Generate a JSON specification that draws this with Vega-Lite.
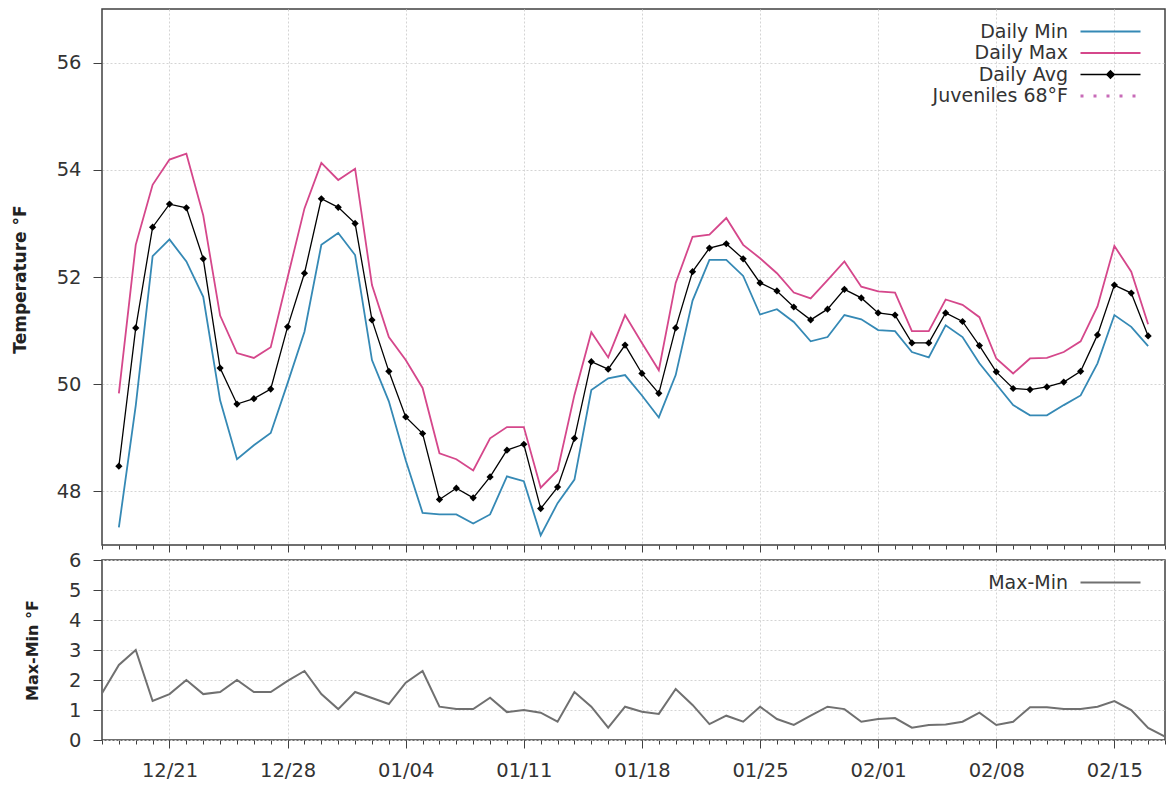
{
  "$schema": "https://vega.github.io/schema/vega-lite/v6.json",
  "padding": {"left": 10, "top": 8, "right": 4, "bottom": 5},
  "bounds": "flush",
  "spacing": 15,
  "config": {
    "font": "DejaVu Sans",
    "view": {"stroke": "#404040", "strokeWidth": 1.5},
    "axis": {
      "labelFont": "DejaVu Sans",
      "labelFontSize": 19.5,
      "labelColor": "#333333",
      "tickColor": "#404040",
      "domainColor": "#404040",
      "gridColor": "#d4d4d4",
      "gridDash": [2, 2],
      "gridWidth": 1,
      "titleFont": "DejaVu Sans",
      "titleFontWeight": "bold",
      "titleFontSize": 16,
      "titleColor": "#222222"
    },
    "legend": {
      "labelFont": "DejaVu Sans",
      "labelFontSize": 19,
      "labelColor": "#333333",
      "labelAlign": "right",
      "labelOffset": -52,
      "symbolOffset": 30,
      "symbolSize": 25,
      "symbolType": "M-12,0L12,0",
      "symbolStrokeWidth": 2,
      "rowPadding": 1.5,
      "padding": 0
    }
  },
  "resolve": {"scale": {"color": "independent"}, "legend": {"color": "independent"}},
  "datasets": {
    "temps": [
      {"date": "2020-12-17T00:00", "min": null, "max": null, "avg": null, "range": 1.56},
      {"date": "2020-12-18T00:00", "min": 47.33, "max": 49.83, "avg": 48.47, "range": 2.5},
      {"date": "2020-12-19T00:00", "min": 49.6, "max": 52.6, "avg": 51.05, "range": 3.0},
      {"date": "2020-12-20T00:00", "min": 52.39, "max": 53.72, "avg": 52.93, "range": 1.3},
      {"date": "2020-12-21T00:00", "min": 52.7, "max": 54.19, "avg": 53.36, "range": 1.53},
      {"date": "2020-12-22T00:00", "min": 52.29, "max": 54.3, "avg": 53.29, "range": 2.0},
      {"date": "2020-12-23T00:00", "min": 51.63, "max": 53.15, "avg": 52.34, "range": 1.53},
      {"date": "2020-12-24T00:00", "min": 49.7, "max": 51.28, "avg": 50.3, "range": 1.6},
      {"date": "2020-12-25T00:00", "min": 48.6, "max": 50.58, "avg": 49.63, "range": 2.0},
      {"date": "2020-12-26T00:00", "min": 48.86, "max": 50.49, "avg": 49.73, "range": 1.6},
      {"date": "2020-12-27T00:00", "min": 49.09, "max": 50.69, "avg": 49.91, "range": 1.6},
      {"date": "2020-12-28T00:00", "min": 50.02, "max": 51.99, "avg": 51.07, "range": 1.97},
      {"date": "2020-12-29T00:00", "min": 50.98, "max": 53.28, "avg": 52.07, "range": 2.3},
      {"date": "2020-12-30T00:00", "min": 52.6, "max": 54.13, "avg": 53.46, "range": 1.53},
      {"date": "2020-12-31T00:00", "min": 52.82, "max": 53.81, "avg": 53.3, "range": 1.03},
      {"date": "2021-01-01T00:00", "min": 52.41, "max": 54.02, "avg": 53.0, "range": 1.6},
      {"date": "2021-01-02T00:00", "min": 50.45, "max": 51.85, "avg": 51.2, "range": 1.4},
      {"date": "2021-01-03T00:00", "min": 49.68, "max": 50.88, "avg": 50.24, "range": 1.2},
      {"date": "2021-01-04T00:00", "min": 48.58, "max": 50.45, "avg": 49.39, "range": 1.91},
      {"date": "2021-01-05T00:00", "min": 47.6, "max": 49.93, "avg": 49.08, "range": 2.3},
      {"date": "2021-01-06T00:00", "min": 47.57, "max": 48.71, "avg": 47.85, "range": 1.11},
      {"date": "2021-01-07T00:00", "min": 47.57, "max": 48.6, "avg": 48.06, "range": 1.03},
      {"date": "2021-01-08T00:00", "min": 47.4, "max": 48.39, "avg": 47.88, "range": 1.03},
      {"date": "2021-01-09T00:00", "min": 47.57, "max": 48.99, "avg": 48.27, "range": 1.41},
      {"date": "2021-01-10T00:00", "min": 48.28, "max": 49.2, "avg": 48.77, "range": 0.93},
      {"date": "2021-01-11T00:00", "min": 48.19, "max": 49.2, "avg": 48.88, "range": 1.0},
      {"date": "2021-01-12T00:00", "min": 47.18, "max": 48.07, "avg": 47.68, "range": 0.91},
      {"date": "2021-01-13T00:00", "min": 47.78, "max": 48.39, "avg": 48.08, "range": 0.61},
      {"date": "2021-01-14T00:00", "min": 48.22, "max": 49.8, "avg": 48.99, "range": 1.6},
      {"date": "2021-01-15T00:00", "min": 49.89, "max": 50.97, "avg": 50.42, "range": 1.11},
      {"date": "2021-01-16T00:00", "min": 50.11, "max": 50.5, "avg": 50.28, "range": 0.41},
      {"date": "2021-01-17T00:00", "min": 50.17, "max": 51.29, "avg": 50.73, "range": 1.11},
      {"date": "2021-01-18T00:00", "min": 49.79, "max": 50.77, "avg": 50.2, "range": 0.94},
      {"date": "2021-01-19T00:00", "min": 49.38, "max": 50.26, "avg": 49.83, "range": 0.87},
      {"date": "2021-01-20T00:00", "min": 50.17, "max": 51.89, "avg": 51.05, "range": 1.7},
      {"date": "2021-01-21T00:00", "min": 51.56, "max": 52.75, "avg": 52.1, "range": 1.17},
      {"date": "2021-01-22T00:00", "min": 52.32, "max": 52.79, "avg": 52.54, "range": 0.53},
      {"date": "2021-01-23T00:00", "min": 52.32, "max": 53.1, "avg": 52.62, "range": 0.81},
      {"date": "2021-01-24T00:00", "min": 52.02, "max": 52.6, "avg": 52.34, "range": 0.61},
      {"date": "2021-01-25T00:00", "min": 51.3, "max": 52.35, "avg": 51.89, "range": 1.11},
      {"date": "2021-01-26T00:00", "min": 51.4, "max": 52.07, "avg": 51.74, "range": 0.7},
      {"date": "2021-01-27T00:00", "min": 51.16, "max": 51.71, "avg": 51.44, "range": 0.5},
      {"date": "2021-01-28T00:00", "min": 50.8, "max": 51.6, "avg": 51.2, "range": 0.81},
      {"date": "2021-01-29T00:00", "min": 50.88, "max": 51.94, "avg": 51.4, "range": 1.11},
      {"date": "2021-01-30T00:00", "min": 51.29, "max": 52.29, "avg": 51.77, "range": 1.03},
      {"date": "2021-01-31T00:00", "min": 51.21, "max": 51.82, "avg": 51.61, "range": 0.61},
      {"date": "2021-02-01T00:00", "min": 51.01, "max": 51.73, "avg": 51.33, "range": 0.7},
      {"date": "2021-02-02T00:00", "min": 50.99, "max": 51.71, "avg": 51.29, "range": 0.73},
      {"date": "2021-02-03T00:00", "min": 50.6, "max": 50.99, "avg": 50.77, "range": 0.41},
      {"date": "2021-02-04T00:00", "min": 50.5, "max": 50.99, "avg": 50.77, "range": 0.5},
      {"date": "2021-02-05T00:00", "min": 51.1, "max": 51.58, "avg": 51.33, "range": 0.52},
      {"date": "2021-02-06T00:00", "min": 50.88, "max": 51.48, "avg": 51.17, "range": 0.61},
      {"date": "2021-02-07T00:00", "min": 50.39, "max": 51.25, "avg": 50.72, "range": 0.91},
      {"date": "2021-02-08T00:00", "min": 50.0, "max": 50.48, "avg": 50.23, "range": 0.5},
      {"date": "2021-02-09T00:00", "min": 49.61, "max": 50.2, "avg": 49.92, "range": 0.61},
      {"date": "2021-02-10T00:00", "min": 49.42, "max": 50.48, "avg": 49.9, "range": 1.09},
      {"date": "2021-02-11T00:00", "min": 49.42, "max": 50.49, "avg": 49.95, "range": 1.09},
      {"date": "2021-02-12T00:00", "min": 49.61, "max": 50.6, "avg": 50.04, "range": 1.03},
      {"date": "2021-02-13T00:00", "min": 49.79, "max": 50.8, "avg": 50.24, "range": 1.03},
      {"date": "2021-02-14T00:00", "min": 50.39, "max": 51.45, "avg": 50.92, "range": 1.11},
      {"date": "2021-02-15T00:00", "min": 51.29, "max": 52.58, "avg": 51.85, "range": 1.3},
      {"date": "2021-02-16T00:00", "min": 51.07, "max": 52.1, "avg": 51.7, "range": 1.0},
      {"date": "2021-02-17T00:00", "min": 50.71, "max": 51.12, "avg": 50.9, "range": 0.4},
      {"date": "2021-02-18T00:00", "min": null, "max": null, "avg": null, "range": 0.11}
    ]
  },
  "vconcat": [
    {
      "width": 1063,
      "height": 536,
      "data": {"name": "temps"},
      "resolve": {"axis": {"x": "independent"}},
      "layer": [
        {
          "mark": {"type": "line", "strokeWidth": 1.8},
          "encoding": {
            "x": {"field": "date", "type": "temporal",
              "scale": {"domain": [{"year": 2020, "month": 12, "date": 17}, {"year": 2021, "month": 2, "date": 18}]},
              "axis": {"orient": "bottom", "title": null, "labels": false, "domain": false, "tickSize": 7, "grid": true,
                "values": [{"year": 2020, "month": 12, "date": 21}, {"year": 2020, "month": 12, "date": 28}, {"year": 2021, "month": 1, "date": 4}, {"year": 2021, "month": 1, "date": 11}, {"year": 2021, "month": 1, "date": 18}, {"year": 2021, "month": 1, "date": 25}, {"year": 2021, "month": 2, "date": 1}, {"year": 2021, "month": 2, "date": 8}, {"year": 2021, "month": 2, "date": 15}]}},
            "y": {"field": "min", "type": "quantitative",
              "scale": {"domain": [47, 57], "nice": false, "zero": false},
              "axis": {"title": "Temperature °F", "titleFontSize": 17, "values": [48, 50, 52, 54, 56], "tickSize": 9, "labelPadding": 12, "domain": false, "grid": true, "titleX": -82, "titleY": 270, "titleBaseline": "middle"}},
            "color": {"datum": "Daily Min",
              "scale": {"domain": ["Daily Min", "Daily Max", "Daily Avg", "Juveniles 68°F"], "range": ["#3589b5", "#d5478b", "#000000", "#c86bb8"]},
              "legend": {"title": null, "orient": "none", "legendX": 969, "legendY": 13,
                "encode": {"symbols": {"update": {
                  "shape": {"signal": "datum.value === 'Daily Avg' ? 'M-12,0L12,0M0,-1.5L1.5,0L0,1.5L-1.5,0Z' : 'M-12,0L12,0'"},
                  "fill": {"signal": "datum.value === 'Daily Avg' ? '#000000' : 'transparent'"},
                  "stroke": {"signal": "datum.value === 'Daily Min' ? '#3589b5' : datum.value === 'Daily Max' ? '#d5478b' : datum.value === 'Daily Avg' ? '#000000' : '#c86bb8'"},
                  "strokeDash": {"signal": "datum.value === 'Juveniles 68°F' ? [3, 10] : [1, 0]"},
                  "strokeWidth": {"signal": "datum.value === 'Daily Avg' ? 1.4 : datum.value === 'Juveniles 68°F' ? 3 : 2"}
                }}}}}
          }
        },
        {
          "mark": {"type": "line", "strokeWidth": 1.8},
          "encoding": {
            "x": {"field": "date", "type": "temporal",
              "scale": {"domain": [{"year": 2020, "month": 12, "date": 17}, {"year": 2021, "month": 2, "date": 18}]},
              "axis": {"orient": "bottom", "title": null, "labels": false, "domain": false, "tickSize": 4, "grid": false, "tickCount": {"interval": "day", "step": 1}}},
            "y": {"field": "max", "type": "quantitative",
              "scale": {"domain": [47, 57], "nice": false, "zero": false},
              "axis": {"title": "Temperature °F", "titleFontSize": 17, "values": [48, 50, 52, 54, 56], "tickSize": 9, "labelPadding": 12, "domain": false, "grid": true, "titleX": -82, "titleY": 270, "titleBaseline": "middle"}},
            "color": {"datum": "Daily Max"}
          }
        },
        {
          "mark": {"type": "line", "strokeWidth": 1.3},
          "encoding": {
            "x": {"field": "date", "type": "temporal", "axis": null,
              "scale": {"domain": [{"year": 2020, "month": 12, "date": 17}, {"year": 2021, "month": 2, "date": 18}]}},
            "y": {"field": "avg", "type": "quantitative",
              "scale": {"domain": [47, 57], "nice": false, "zero": false},
              "axis": {"title": "Temperature °F", "titleFontSize": 17, "values": [48, 50, 52, 54, 56], "tickSize": 9, "labelPadding": 12, "domain": false, "grid": true, "titleX": -82, "titleY": 270, "titleBaseline": "middle"}},
            "color": {"datum": "Daily Avg"}
          }
        },
        {
          "mark": {"type": "point", "shape": "diamond", "filled": true, "color": "#000000", "opacity": 1, "size": 52},
          "encoding": {
            "x": {"field": "date", "type": "temporal", "axis": null,
              "scale": {"domain": [{"year": 2020, "month": 12, "date": 17}, {"year": 2021, "month": 2, "date": 18}]}},
            "y": {"field": "avg", "type": "quantitative",
              "scale": {"domain": [47, 57], "nice": false, "zero": false},
              "axis": {"title": "Temperature °F", "titleFontSize": 17, "values": [48, 50, 52, 54, 56], "tickSize": 9, "labelPadding": 12, "domain": false, "grid": true, "titleX": -82, "titleY": 270, "titleBaseline": "middle"}}
          }
        }
      ]
    },
    {
      "width": 1063,
      "height": 180,
      "data": {"name": "temps"},
      "resolve": {"axis": {"x": "independent"}},
      "layer": [
        {
          "mark": {"type": "line", "strokeWidth": 2},
          "encoding": {
            "x": {"field": "date", "type": "temporal",
              "scale": {"domain": [{"year": 2020, "month": 12, "date": 17}, {"year": 2021, "month": 2, "date": 18}]},
              "axis": {"orient": "bottom", "title": null, "format": "%m/%d", "domain": false, "tickSize": 8, "labelPadding": 13, "grid": true,
                "values": [{"year": 2020, "month": 12, "date": 21}, {"year": 2020, "month": 12, "date": 28}, {"year": 2021, "month": 1, "date": 4}, {"year": 2021, "month": 1, "date": 11}, {"year": 2021, "month": 1, "date": 18}, {"year": 2021, "month": 1, "date": 25}, {"year": 2021, "month": 2, "date": 1}, {"year": 2021, "month": 2, "date": 8}, {"year": 2021, "month": 2, "date": 15}]}},
            "y": {"field": "range", "type": "quantitative",
              "scale": {"domain": [0, 6], "nice": false},
              "axis": {"title": "Max-Min °F", "values": [0, 1, 2, 3, 4, 5, 6], "tickSize": 9, "labelPadding": 12, "domain": false, "grid": true, "titleX": -70, "titleBaseline": "middle"}},
            "color": {"datum": "Max-Min",
              "scale": {"domain": ["Max-Min"], "range": ["#707070"]},
              "legend": {"title": null, "orient": "none", "legendX": 969, "legendY": 13,
                "encode": {"symbols": {"update": {
                  "shape": {"value": "M-12,0L12,0"},
                  "fill": {"value": "transparent"},
                  "stroke": {"value": "#707070"},
                  "strokeWidth": {"value": 2}
                }}}}}
          }
        },
        {
          "mark": {"type": "line", "opacity": 0},
          "encoding": {
            "x": {"field": "date", "type": "temporal",
              "scale": {"domain": [{"year": 2020, "month": 12, "date": 17}, {"year": 2021, "month": 2, "date": 18}]},
              "axis": {"orient": "bottom", "title": null, "labels": false, "domain": false, "tickSize": 4, "grid": false, "tickCount": {"interval": "day", "step": 1}}},
            "y": {"field": "range", "type": "quantitative",
              "scale": {"domain": [0, 6], "nice": false},
              "axis": {"title": "Max-Min °F", "values": [0, 1, 2, 3, 4, 5, 6], "tickSize": 9, "labelPadding": 12, "domain": false, "grid": true, "titleX": -70, "titleBaseline": "middle"}}
          }
        }
      ]
    }
  ]
}
